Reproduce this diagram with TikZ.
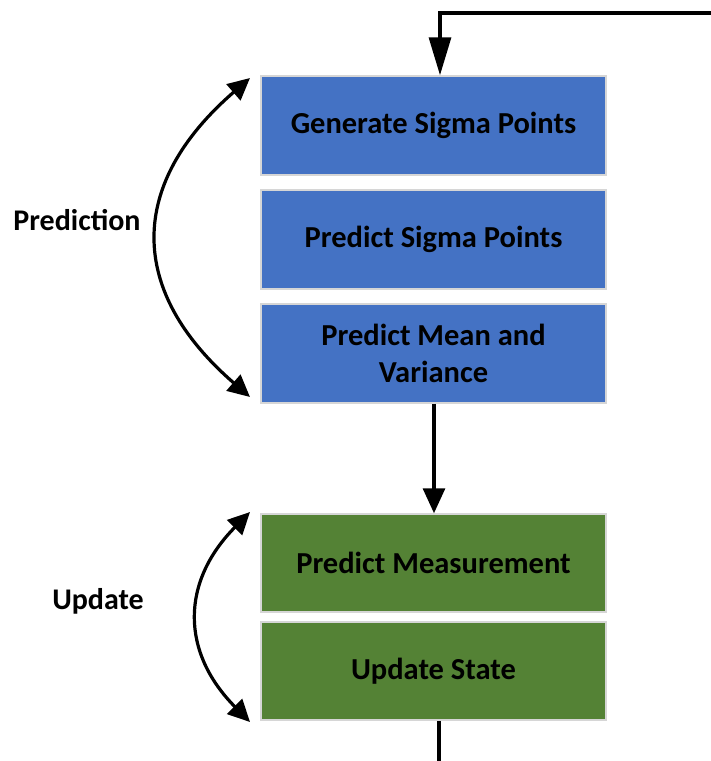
\documentclass[tikz,border=0pt]{standalone}
\usepackage{fontspec}
\setmainfont{Carlito}
\usetikzlibrary{arrows.meta}
\definecolor{boxblue}{HTML}{4472C4}
\definecolor{boxgreen}{HTML}{548235}
\definecolor{boxedge}{HTML}{D6D6D6}
\begin{document}
\begin{tikzpicture}[x=1pt,y=1pt,
  stepbox/.style={draw=boxedge, line width=1.5pt, minimum width=345pt, inner sep=0pt,
    align=center, font=\fontsize{30.5}{37}\selectfont\bfseries, text=black},
  bluebox/.style={stepbox, fill=boxblue, minimum height=99pt},
  greenbox/.style={stepbox, fill=boxgreen, minimum height=98pt},
  flow/.style={line width=3.2pt, draw=black},
  lbl/.style={font=\fontsize{30}{36}\selectfont\bfseries, text=black, inner sep=0pt}]
\useasboundingbox (0,0) rectangle (711,-761);
\node[bluebox] (gen) at (433.5,-125.5) {Generate Sigma Points};
\node[bluebox] (psp) at (433.5,-239.5) {Predict Sigma Points};
\node[bluebox] (pmv) at (433.5,-353.5) {Predict Mean and\\Variance};
\node[greenbox] (pm) at (433.5,-563) {Predict Measurement};
\node[greenbox] (us) at (433.5,-671) {Update State};
\node[lbl] (lp) at (77,-220) {Prediction};
\node[lbl] (lu) at (98,-601) {Update};
% loop connector
\coordinate (tr) at (720,-13);
\coordinate (tl) at (440,-13);
\coordinate (bl) at (439,-765);
\coordinate (br) at (720,-765);
\draw[flow, -{Triangle[length=38pt,width=22pt]}] (tr) -- (tl) -- (gen.north -| tl);
\draw[flow] (us.south -| bl) -- (bl) -- (br);
\draw[flow, -{Triangle[length=25pt,width=22pt]}] (pmv.south -| 434,0) -- (pm.north -| 434,0);
% curved arrows
\coordinate (pt) at (250,-78);
\coordinate (pb) at (250,-397);
\coordinate (ut) at (250,-512);
\coordinate (ub) at (250,-722);
\draw[flow, {Triangle[length=22pt,width=21pt]}-{Triangle[length=22pt,width=21pt]}]
  (pt) .. controls (127.3,-184.3) and (127.3,-290.7) .. (pb);
\draw[flow, {Triangle[length=22pt,width=21pt]}-{Triangle[length=22pt,width=21pt]}]
  (ut) .. controls (180.7,-582) and (180.7,-652) .. (ub);
\end{tikzpicture}
\end{document}
